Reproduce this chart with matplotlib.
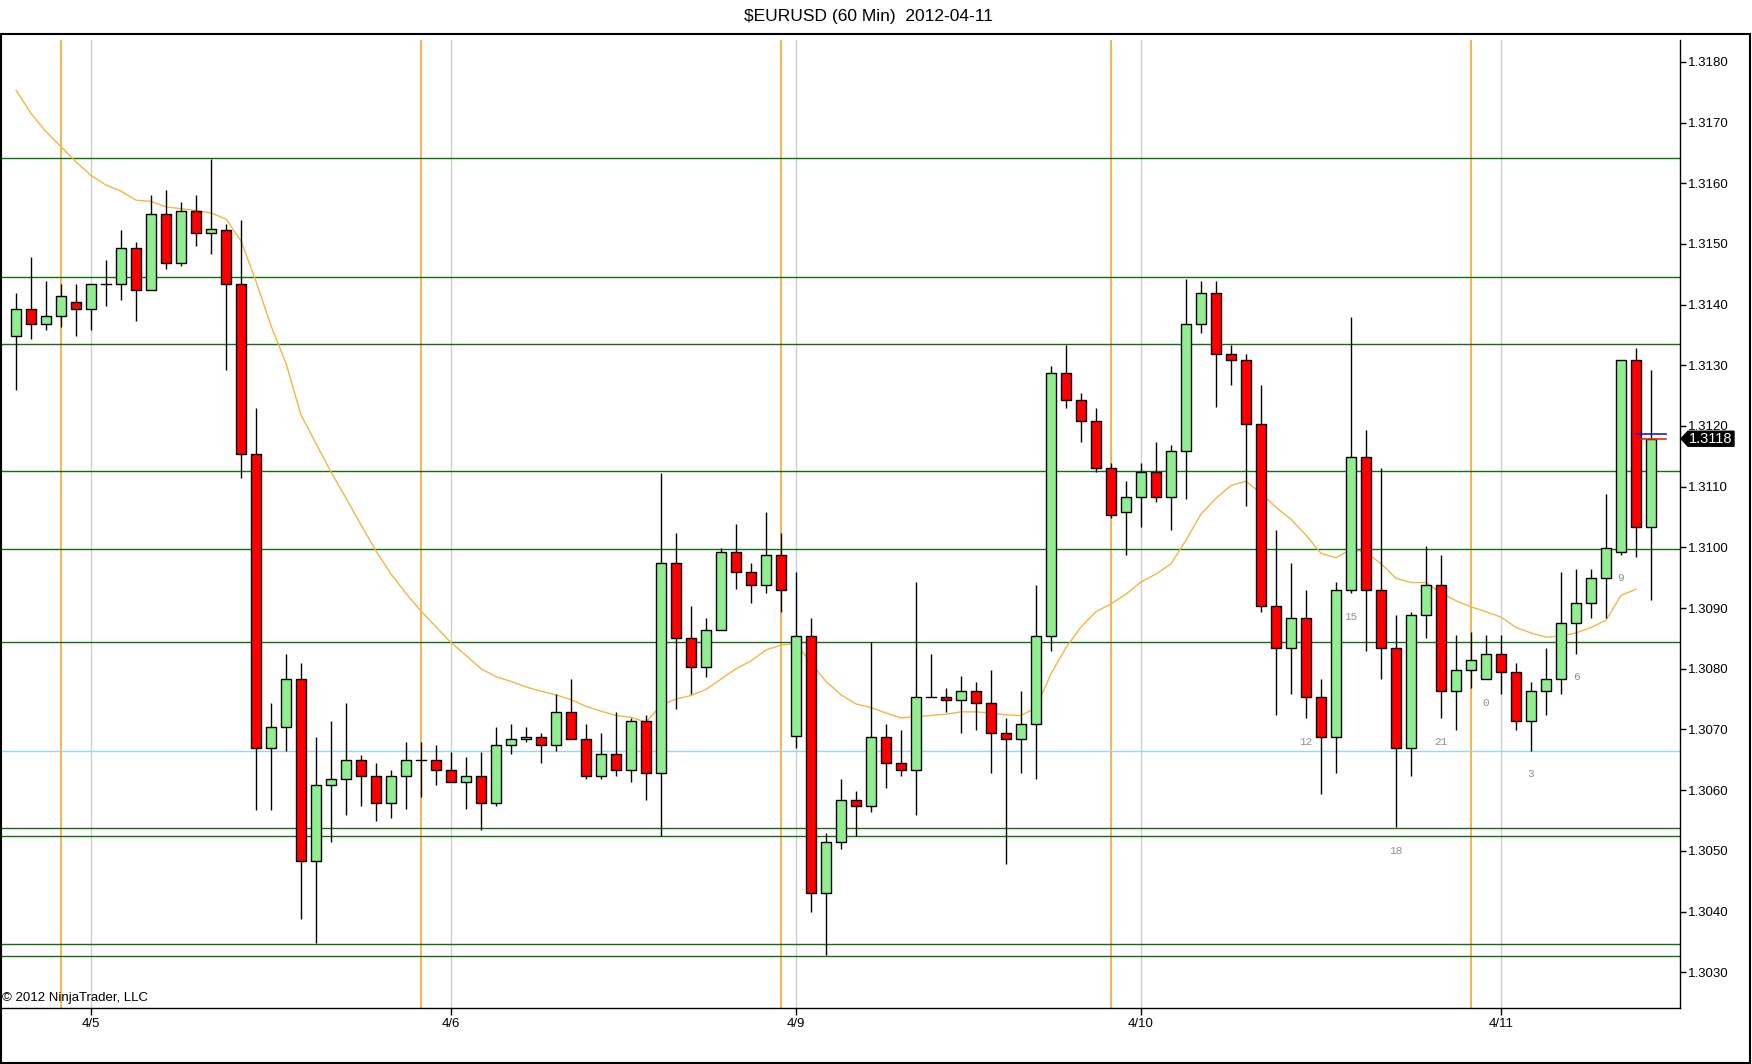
import matplotlib
matplotlib.use("Agg")
import matplotlib.pyplot as plt
from matplotlib.patches import Rectangle, Polygon

plt.rcParams['font.family'] = ['Liberation Sans', 'DejaVu Sans']

# ---------------- data ----------------
opens = [1.31349, 1.31393, 1.31368, 1.31382, 1.31404, 1.31393, 1.31434, 1.31434, 1.31493, 1.31424,
         1.31549, 1.31468, 1.31554, 1.31518, 1.31523, 1.31434, 1.31154, 1.30669, 1.30704, 1.30783,
         1.30483, 1.30608, 1.30619, 1.30649, 1.30624, 1.30579, 1.30624, 1.30649, 1.30649, 1.30633,
         1.30613, 1.30624, 1.30579, 1.30674, 1.30684, 1.30688, 1.30674, 1.30729, 1.30684, 1.30624,
         1.30659, 1.30633, 1.30714, 1.30629, 1.30974, 1.30850, 1.30803, 1.30864, 1.30993, 1.30959,
         1.30938, 1.30988, 1.30689, 1.30854, 1.30430, 1.30514, 1.30584, 1.30574, 1.30688, 1.30644,
         1.30633, 1.30754, 1.30754, 1.30749, 1.30763, 1.30744, 1.30694, 1.30684, 1.30709, 1.30854,
         1.31288, 1.31243, 1.31209, 1.31130, 1.31059, 1.31083, 1.31125, 1.31083, 1.31158, 1.31368,
         1.31419, 1.31318, 1.31308, 1.31204, 1.30904, 1.30835, 1.30884, 1.30754, 1.30688, 1.30929,
         1.31149, 1.30929, 1.30835, 1.30669, 1.30889, 1.30938, 1.30763, 1.30798, 1.30783, 1.30825,
         1.30794, 1.30714, 1.30763, 1.30783, 1.30875, 1.30909, 1.30949, 1.30993, 1.31308, 1.31034]
highs = [1.31419, 1.31478, 1.31439, 1.31434, 1.31434, 1.31434, 1.31474, 1.31523, 1.31503, 1.31580,
         1.31589, 1.31569, 1.31580, 1.31640, 1.31533, 1.31539, 1.31229, 1.30744, 1.30825, 1.30810,
         1.30688, 1.30714, 1.30744, 1.30658, 1.30644, 1.30633, 1.30679, 1.30679, 1.30674, 1.30663,
         1.30654, 1.30663, 1.30704, 1.30709, 1.30704, 1.30694, 1.30758, 1.30783, 1.30709, 1.30694,
         1.30729, 1.30719, 1.30724, 1.31123, 1.31024, 1.30904, 1.30884, 1.30999, 1.31038, 1.30974,
         1.31059, 1.31024, 1.30959, 1.30884, 1.30530, 1.30619, 1.30599, 1.30844, 1.30709, 1.30699,
         1.30943, 1.30825, 1.30769, 1.30788, 1.30778, 1.30798, 1.30719, 1.30763, 1.30938, 1.31299,
         1.31333, 1.31254, 1.31229, 1.31139, 1.31109, 1.31139, 1.31174, 1.31169, 1.31443, 1.31439,
         1.31439, 1.31333, 1.31318, 1.31268, 1.31029, 1.30974, 1.30929, 1.30783, 1.30943, 1.31379,
         1.31193, 1.31130, 1.30889, 1.30894, 1.31003, 1.30988, 1.30855, 1.30860, 1.30855, 1.30855,
         1.30810, 1.30778, 1.30835, 1.30959, 1.30964, 1.30964, 1.31088, 1.31308, 1.31329, 1.31293]
lows = [1.31259, 1.31343, 1.31358, 1.31363, 1.31348, 1.31358, 1.31397, 1.31408, 1.31373, 1.31424,
        1.31458, 1.31463, 1.31497, 1.31483, 1.31293, 1.31114, 1.30568, 1.30568, 1.30665, 1.30388,
        1.30348, 1.30514, 1.30559, 1.30574, 1.30549, 1.30554, 1.30569, 1.30588, 1.30608, 1.30613,
        1.30569, 1.30534, 1.30574, 1.30659, 1.30679, 1.30644, 1.30665, 1.30684, 1.30619, 1.30619,
        1.30624, 1.30613, 1.30584, 1.30525, 1.30734, 1.30758, 1.30787, 1.30864, 1.30932, 1.30909,
        1.30924, 1.30894, 1.30669, 1.30400, 1.30328, 1.30503, 1.30525, 1.30564, 1.30604, 1.30624,
        1.30559, 1.30754, 1.30729, 1.30694, 1.30699, 1.30629, 1.30479, 1.30629, 1.30619, 1.30830,
        1.31229, 1.31174, 1.31125, 1.31049, 1.30988, 1.31033, 1.31074, 1.31029, 1.31079, 1.31353,
        1.31232, 1.31268, 1.31068, 1.30894, 1.30724, 1.30758, 1.30719, 1.30594, 1.30629, 1.30924,
        1.30830, 1.30783, 1.30539, 1.30624, 1.30850, 1.30719, 1.30699, 1.30769, 1.30783, 1.30758,
        1.30699, 1.30665, 1.30724, 1.30758, 1.30825, 1.30884, 1.30884, 1.30988, 1.30984, 1.30914]
closes = [1.31393, 1.31368, 1.31382, 1.31414, 1.31393, 1.31434, 1.31434, 1.31493, 1.31424, 1.31549,
          1.31468, 1.31554, 1.31518, 1.31524, 1.31434, 1.31154, 1.30669, 1.30704, 1.30783, 1.30483,
          1.30608, 1.30619, 1.30649, 1.30624, 1.30579, 1.30624, 1.30649, 1.30649, 1.30633, 1.30613,
          1.30624, 1.30579, 1.30674, 1.30684, 1.30688, 1.30674, 1.30729, 1.30684, 1.30624, 1.30659,
          1.30633, 1.30714, 1.30629, 1.30974, 1.30850, 1.30803, 1.30864, 1.30993, 1.30959, 1.30938,
          1.30988, 1.30929, 1.30854, 1.30430, 1.30514, 1.30584, 1.30574, 1.30688, 1.30644, 1.30633,
          1.30754, 1.30754, 1.30749, 1.30763, 1.30744, 1.30694, 1.30684, 1.30709, 1.30854, 1.31288,
          1.31243, 1.31209, 1.31130, 1.31054, 1.31083, 1.31125, 1.31083, 1.31158, 1.31368, 1.31419,
          1.31318, 1.31308, 1.31204, 1.30904, 1.30835, 1.30884, 1.30754, 1.30688, 1.30929, 1.31149,
          1.30929, 1.30835, 1.30669, 1.30889, 1.30938, 1.30763, 1.30798, 1.30815, 1.30825, 1.30794,
          1.30714, 1.30763, 1.30783, 1.30875, 1.30909, 1.30949, 1.30999, 1.31308, 1.31034, 1.31179]

ma_values = [1.31753, 1.31715, 1.31685, 1.31660, 1.31635, 1.31613, 1.31597, 1.31587, 1.31572, 1.31570,
             1.31561, 1.31558, 1.31555, 1.31551, 1.31541, 1.31505, 1.31438, 1.31365, 1.31303, 1.31218,
             1.31171, 1.31124, 1.31081, 1.31037, 1.30994, 1.30956, 1.30924, 1.30895, 1.30869, 1.30843,
             1.30822, 1.30800, 1.30787, 1.30779, 1.30770, 1.30763, 1.30757, 1.30749, 1.30738, 1.30730,
             1.30723, 1.30720, 1.30712, 1.30740, 1.30750, 1.30756, 1.30766, 1.30783, 1.30800, 1.30813,
             1.30831, 1.30839, 1.30842, 1.30809, 1.30779, 1.30757, 1.30742, 1.30736, 1.30727, 1.30719,
             1.30721, 1.30723, 1.30725, 1.30729, 1.30729, 1.30727, 1.30724, 1.30723, 1.30736, 1.30792,
             1.30835, 1.30869, 1.30894, 1.30907, 1.30923, 1.30943, 1.30956, 1.30973, 1.31012, 1.31055,
             1.31081, 1.31102, 1.31109, 1.31089, 1.31066, 1.31046, 1.31020, 1.30990, 1.30983, 1.30997,
             1.30992, 1.30973, 1.30949, 1.30942, 1.30942, 1.30925, 1.30912, 1.30902, 1.30894, 1.30885,
             1.30868, 1.30859, 1.30852, 1.30854, 1.30859, 1.30868, 1.30880, 1.30921, 1.30931]

level_prices = [1.31641, 1.31445, 1.31335, 1.31126, 1.30998, 1.30844, 1.30538, 1.30525, 1.30347, 1.30327]
pivot_price = 1.30665

session_idx = [3, 27, 51, 73, 97]
date_idx = [5, 29, 52, 75, 99]
date_labels = ['4/5', '4/6', '4/9', '4/10', '4/11']

hour_idx = [86, 89, 92, 95, 98, 101, 104, 107]
hour_labels = ['12', '15', '18', '21', '0', '3', '6', '9']

price_ticks = [1.3030, 1.3040, 1.3050, 1.3060, 1.3070, 1.3080, 1.3090, 1.3100,
               1.3110, 1.3120, 1.3130, 1.3140, 1.3150, 1.3160, 1.3170, 1.3180]
ask_price = 1.31186
bid_price = 1.31179
last_label = '1.3118'
title = '$EURUSD (60 Min)  2012-04-11'

# ---------------- figure ----------------
W, H = 1752, 1064
fig = plt.figure(figsize=(W / 100, H / 100), dpi=100)
fig.patch.set_facecolor('white')
ax = fig.add_axes([0, 1 - 1008 / H, 1680 / W, (1008 - 40) / H])

ax.set_xlim(-1.07, 110.93)
ax.set_ylim(1.30241, 1.31836)

# outer frame
fig.patches.append(Rectangle((0.5 / W, 1 - 1063 / H), 1749 / W, (1063 - 34) / H,
                             transform=fig.transFigure, fill=False, edgecolor='black',
                             linewidth=1.5, zorder=10))

fig.text(869 / W, 1 - 17 / H, title, ha='center', va='center', fontsize=12.5)

# vertical lines
for d in date_idx:
    ax.axvline(d, color='#cfcfcf', linewidth=1.0, zorder=1)
for s in session_idx:
    ax.axvline(s, color='#f0a020', linewidth=1.1, zorder=1)

# horizontal levels
for lp in level_prices:
    ax.axhline(lp, color='#107010', linewidth=1.0, zorder=2)
ax.axhline(pivot_price, color='#9fd4e8', linewidth=1.0, zorder=2)

# moving average
ax.plot(range(len(ma_values)), ma_values, color='#f5b446', linewidth=1.0, zorder=3)

# candles
bw = 0.66
for i, (o, h, l, c) in enumerate(zip(opens, highs, lows, closes)):
    ax.plot([i, i], [l, h], color='black', linewidth=1.0, zorder=4, solid_capstyle='butt')
    if abs(c - o) < 1e-7:
        ax.plot([i - bw / 2, i + bw / 2], [o, o], color='black', linewidth=1.0, zorder=5)
    else:
        fc = '#90ee90' if c > o else '#ff0000'
        ax.add_patch(Rectangle((i - bw / 2, min(o, c)), bw, abs(c - o), facecolor=fc,
                               edgecolor='black', linewidth=1.0, zorder=5))

# hour labels under lows
for hi, ht in zip(hour_idx, hour_labels):
    ax.annotate(ht, (hi, lows[hi]), xytext=(0, -17), textcoords='offset points',
                ha='center', va='center', fontsize=8, color='#909090', zorder=6,
                family=['Liberation Mono', 'DejaVu Sans Mono'])

# ask / bid marks
n = len(closes)
ax.plot([n - 2, n], [ask_price, ask_price], color='#2020c0', linewidth=1.2, zorder=6,
        clip_on=False)
ax.plot([n - 1.65, n], [bid_price, bid_price], color='#e03010', linewidth=1.2, zorder=6,
        clip_on=False)

# last price marker
tr = ax.get_yaxis_transform()
px = 1 / 1680
dy = 7.5 / 60670
poly = Polygon([(1.0 + 1 * px, bid_price), (1.0 + 8 * px, bid_price + dy),
                (1.0 + 54 * px, bid_price + dy), (1.0 + 54 * px, bid_price - dy),
                (1.0 + 8 * px, bid_price - dy)], closed=True, transform=tr,
               facecolor='black', edgecolor='black', clip_on=False, zorder=11)
ax.add_patch(poly)
ax.text(1.0 + 31 * px, bid_price, last_label, transform=tr, color='white',
        ha='center', va='center', fontsize=10.5, zorder=12, clip_on=False)

# spines and ticks
for sp in ['top', 'left']:
    ax.spines[sp].set_visible(False)
for sp in ['bottom', 'right']:
    ax.spines[sp].set_color('black')
    ax.spines[sp].set_linewidth(1.0)
    ax.spines[sp].set_zorder(8)

ax.yaxis.tick_right()
ax.set_yticks(price_ticks)
ax.set_yticklabels([f'{t:.4f}' for t in price_ticks])
ax.tick_params(axis='y', direction='out', length=4.5, width=1, pad=1.5, labelsize=9.5)
ax.set_xticks(date_idx)
ax.set_xticklabels(date_labels)
ax.tick_params(axis='x', direction='out', length=5, width=1, pad=2, labelsize=9.5)

ax.text(2 / 1680, 4 / 968, '\u00a9 2012 NinjaTrader, LLC', transform=ax.transAxes,
        ha='left', va='bottom', fontsize=9.5, zorder=9)

fig.savefig('out.png', dpi=100, facecolor='white')
